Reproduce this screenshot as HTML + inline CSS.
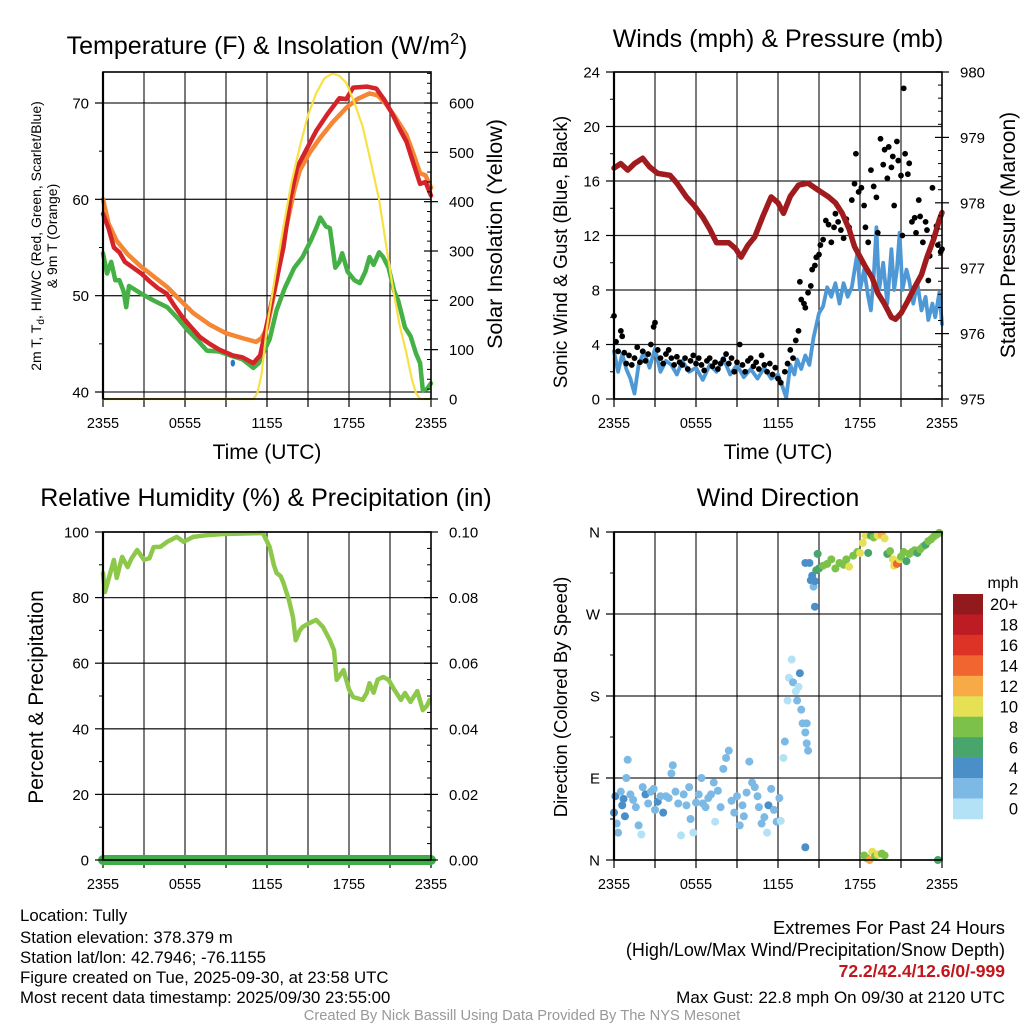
<!DOCTYPE html>
<html><head><meta charset="utf-8">
<style>
html,body{margin:0;padding:0;background:#fff;}
svg{display:block;font-family:"Liberation Sans",sans-serif;}
</style></head>
<body>
<svg id="chart" width="1024" height="1024" viewBox="0 0 1024 1024" xmlns="http://www.w3.org/2000/svg">
<rect width="1024" height="1024" fill="#fff"/>
<g id="root"></g>
<text x="267" y="54" font-size="25" text-anchor="middle">Temperature (F) &amp; Insolation (W/m<tspan dy="-10" font-size="16">2</tspan><tspan dy="10">)</tspan></text>
<text x="778" y="47" font-size="25" text-anchor="middle">Winds (mph) &amp; Pressure (mb)</text>
<text x="266" y="506" font-size="25" text-anchor="middle">Relative Humidity (%) &amp; Precipitation (in)</text>
<text x="778" y="506" font-size="25" text-anchor="middle">Wind Direction</text>
<text x="267" y="459" font-size="21" text-anchor="middle">Time (UTC)</text>
<text x="778" y="459" font-size="21" text-anchor="middle">Time (UTC)</text>
<text transform="translate(41,236) rotate(-90)" font-size="14" text-anchor="middle">2m T, T<tspan dy="3" font-size="10">d</tspan><tspan dy="-3">, HI/WC (Red, Green, Scarlet/Blue)</tspan></text>
<text transform="translate(57,236) rotate(-90)" font-size="14" text-anchor="middle">&amp; 9m T (Orange)</text>
<text transform="translate(502,234) rotate(-90)" font-size="21.5" text-anchor="middle">Solar Insolation (Yellow)</text>
<text transform="translate(567,252) rotate(-90)" font-size="19" text-anchor="middle">Sonic Wind &amp; Gust (Blue, Black)</text>
<text transform="translate(1015,235) rotate(-90)" font-size="21" text-anchor="middle">Station Pressure (Maroon)</text>
<text transform="translate(43,697) rotate(-90)" font-size="21" text-anchor="middle">Percent &amp; Precipitation</text>
<text transform="translate(567,697) rotate(-90)" font-size="18.5" text-anchor="middle">Direction (Colored By Speed)</text>
<text x="1003" y="588" font-size="16" text-anchor="middle">mph</text>
<g font-size="16.8">
<text x="20" y="921">Location: Tully</text>
<text x="20" y="943">Station elevation: 378.379 m</text>
<text x="20" y="963">Station lat/lon: 42.7946; -76.1155</text>
<text x="20" y="983">Figure created on Tue, 2025-09-30, at 23:58 UTC</text>
<text x="20" y="1003">Most recent data timestamp: 2025/09/30 23:55:00</text>
</g>
<g text-anchor="end">
<text x="1005" y="934" font-size="18.4">Extremes For Past 24 Hours</text>
<text x="1005" y="956" font-size="18">(High/Low/Max Wind/Precipitation/Snow Depth)</text>
<text x="1005" y="977" font-size="17.5" fill="#c1161c" font-weight="bold">72.2/42.4/12.6/0/-999</text>
<text x="1005" y="1003" font-size="17">Max Gust: 22.8 mph On 09/30 at 2120 UTC</text>
</g>
<text x="522" y="1020" font-size="14.7" fill="#999" text-anchor="middle">Created By Nick Bassill Using Data Provided By The NYS Mesonet</text>
</svg>
<script>
// ---- data ----
const timeTickLabels = ["2355","0555","1155","1755","2355"];
const tempTicks = [40,50,60,70];
const insolTicks = [0,100,200,300,400,500,600];
const windTicks = [0,4,8,12,16,20,24];
const presTicks = [975,976,977,978,979,980];
const rhTicks = [0,20,40,60,80,100];
const precipTicks = ["0.00","0.02","0.04","0.06","0.08","0.10"];
const dirTicks = ["N","E","S","W","N"];
const speedLabels = ["0","2","4","6","8","10","12","14","16","18","20+"];
const speedColors = ["#b3e2f7","#7cb9e4","#4a8fc8","#48a56c","#7cc24a","#e6e055","#f7aa45","#f06530","#dd3327","#bd1c24","#931a1c"];

const tempRed = [[0,58.5],[0.4,57],[0.8,55],[1.2,54.5],[1.6,53.5],[2.2,52.9],[2.8,52.3],[3.4,51.5],[4.0,50.8],[4.66,50.2],[5.2,49],[5.8,47.8],[6.4,46.8],[7.1,45.7],[7.8,45],[8.5,44.4],[9.5,43.8],[10.2,43.6],[11.0,43],[11.5,43.8],[12.0,47.1],[12.6,51],[13.2,55],[13.7,60],[14.2,63.3],[14.9,65.2],[15.6,67.1],[16.4,68.8],[17.3,70.5],[17.8,70.4],[18.3,71.6],[19.3,71.7],[20.0,71.5],[20.6,70.3],[21.2,68.8],[21.7,67.3],[22.2,66],[22.7,63.8],[23.2,61.6],[23.6,61.8],[24,60.4]];
const tempOrange = [[0,60],[0.4,57.5],[1.0,55.7],[1.8,54.3],[2.8,53],[3.7,52],[4.7,50.9],[5.6,49.6],[6.6,48.2],[7.8,47],[9.0,46.1],[10.2,45.6],[11.2,45.2],[11.6,45.6],[12.0,46.6],[12.7,51.5],[13.4,57],[14.0,61],[14.4,63],[15.1,64.8],[15.9,66.4],[16.8,68],[17.8,69.5],[18.6,70.4],[19.5,71],[20.1,70.8],[20.7,69.9],[21.4,68.5],[22.2,66.7],[22.7,64.8],[23.2,62.7],[23.6,62.5],[24,61.2]];
const tempGreen = [[0,54.4],[0.3,52.3],[0.6,53.5],[0.9,51.6],[1.2,51.6],[1.5,50.5],[1.7,48.8],[1.9,51],[2.8,50.2],[3.7,49.5],[4.7,48.8],[5.5,47.6],[6.2,46.4],[6.9,45.4],[7.6,44.3],[8.5,44.2],[9.5,43.7],[10.2,43.4],[11.0,42.5],[11.4,43],[11.7,44],[12.2,45.5],[12.7,48.5],[13.3,50.8],[14.0,52.9],[14.6,54],[15.2,55.7],[15.6,57],[15.9,58.1],[16.3,57.2],[16.6,57],[16.8,55],[17.0,52.9],[17.3,53.5],[17.5,54.4],[17.9,52.5],[18.4,51.6],[18.8,51.3],[19.2,52.5],[19.5,54],[19.8,53.2],[20.2,54.5],[20.5,54],[20.9,52.9],[21.3,50.5],[21.6,49.5],[22.1,46.7],[22.5,45.8],[22.9,44],[23.2,43],[23.4,40.2],[23.7,40.3],[24,40.9]];
const tempBlue = [[9.5,43]];
const insolation = [[0,0],[11.0,0],[11.3,12],[11.6,50],[12.0,146],[12.6,250],[13.2,349],[13.8,440],[14.4,511],[15.0,575],[15.6,620],[16.2,650],[16.8,660],[17.3,655],[17.8,641],[18.4,600],[19.0,552],[19.6,480],[20.2,404],[20.7,315],[21.2,227],[21.7,150],[22.2,93],[22.6,40],[22.9,12],[23.2,0],[24,0]];

const sonicWind = [[0,3.5],[0.3,2],[0.6,3.3],[0.9,2.2],[1.2,1.5],[1.5,0.4],[1.8,2.5],[2.2,3.5],[2.6,2.3],[3,3.7],[3.4,2],[3.8,2.8],[4.2,2.5],[4.6,1.8],[5,2.8],[5.5,2],[6,2.3],[6.5,1.4],[7,2.5],[7.5,2],[8,3],[8.5,1.8],[9,2.5],[9.5,1.6],[10,2.2],[10.5,1.5],[11,2.3],[11.5,1.5],[12,1.8],[12.3,1],[12.6,0.1],[12.9,2.5],[13.2,1.8],[13.4,2.9],[13.7,2.2],[14,3.2],[14.3,2.5],[14.6,4.5],[15,6.3],[15.3,6.8],[15.6,8.2],[15.9,7.5],[16.2,8.5],[16.5,7],[16.8,8.5],[17.1,7.5],[17.4,8.2],[17.8,10.7],[18,8],[18.3,9.5],[18.6,7.5],[18.8,6.5],[19,9],[19.2,12.6],[19.4,8],[19.7,10],[20,7],[20.3,11],[20.5,8],[20.7,9.5],[20.9,12.2],[21.1,8],[21.4,9.5],[21.6,8.7],[21.9,7],[22.2,8.5],[22.5,6.5],[22.8,7.5],[23,5.8],[23.3,7],[23.5,6],[23.8,7.8],[24,5.5]];
const gusts = [[0,6.1],[0.15,4.2],[0.3,3.5],[0.5,5.0],[0.6,4.6],[0.75,3.4],[0.9,2.6],[1.1,3.2],[1.3,2.5],[1.5,3.0],[1.7,3.8],[1.9,2.7],[2.1,3.5],[2.3,2.8],[2.5,3.3],[2.7,4.0],[2.9,5.3],[3.0,5.6],[3.2,3.6],[3.4,3.0],[3.6,2.6],[3.8,3.3],[4.0,3.6],[4.2,3.0],[4.4,2.5],[4.6,3.1],[4.8,2.7],[5.0,2.5],[5.2,3.0],[5.4,2.2],[5.6,2.8],[5.8,3.2],[6.0,2.6],[6.2,3.0],[6.4,2.5],[6.6,2.1],[6.8,2.8],[7.0,3.0],[7.2,2.4],[7.4,2.7],[7.6,2.2],[7.8,2.6],[8.0,2.9],[8.2,3.3],[8.4,2.6],[8.6,3.0],[8.8,2.0],[9.0,2.7],[9.2,4.0],[9.4,2.5],[9.6,2.0],[9.8,2.8],[10.0,3.0],[10.2,2.4],[10.4,2.7],[10.6,2.2],[10.8,3.2],[11.0,2.5],[11.2,2.0],[11.4,2.6],[11.6,1.8],[11.8,2.3],[12.0,1.5],[12.2,1.2],[12.5,2.0],[12.7,2.6],[12.9,3.6],[13.1,3.0],[13.3,4.3],[13.5,5.0],[13.6,8.6],[13.7,7.3],[13.9,7.0],[14.0,6.7],[14.2,7.8],[14.4,8.3],[14.5,9.5],[14.7,9.8],[14.8,10.4],[15.0,10.6],[15.1,11.3],[15.3,11.7],[15.5,13.1],[15.7,12.8],[15.9,11.5],[16.1,12.6],[16.2,13.6],[16.4,13.0],[16.6,12.4],[16.8,11.8],[17.0,13.2],[17.2,12.6],[17.4,14.6],[17.6,15.8],[17.7,18.0],[17.9,15.2],[18.1,15.5],[18.3,14.2],[18.4,12.6],[18.6,11.5],[18.8,16.8],[19.0,15.6],[19.2,14.8],[19.3,12.2],[19.5,19.1],[19.7,17.2],[19.8,18.3],[20.0,16.2],[20.1,18.5],[20.3,17.0],[20.4,17.8],[20.5,14.2],[20.7,18.9],[20.8,17.5],[21.0,16.4],[21.1,12.0],[21.2,22.8],[21.3,18.0],[21.5,16.5],[21.6,17.3],[21.8,13.0],[22.0,13.3],[22.1,12.2],[22.3,14.6],[22.4,13.4],[22.6,11.5],[22.8,13.0],[22.9,12.4],[23.0,8.7],[23.1,10.5],[23.3,15.5],[23.4,11.9],[23.6,12.7],[23.7,11.3],[23.9,10.8],[24.0,11.0]];
const pressure = [[0,978.53],[0.5,978.6],[1.0,978.5],[1.5,978.6],[2.1,978.68],[2.6,978.55],[3.2,978.45],[4.1,978.42],[4.6,978.3],[5.3,978.09],[5.9,977.95],[6.5,977.78],[7.0,977.6],[7.5,977.39],[8.4,977.39],[8.9,977.3],[9.3,977.17],[9.8,977.35],[10.3,977.48],[10.9,977.8],[11.5,978.09],[12.0,978.0],[12.4,977.84],[12.9,978.1],[13.5,978.27],[14.2,978.3],[14.9,978.2],[15.7,978.09],[16.2,978.0],[16.7,977.84],[17.2,977.6],[17.6,977.33],[18.4,977.02],[18.9,976.85],[19.3,976.62],[19.8,976.45],[20.3,976.25],[20.6,976.22],[21.0,976.31],[21.5,976.5],[22.0,976.71],[22.5,976.9],[22.9,977.17],[23.4,977.45],[23.8,977.74],[24,977.85]];

const rh = [[0,87.5],[0.15,81.7],[0.5,87],[0.8,91.5],[1.0,86],[1.4,92.4],[1.8,89.3],[2.1,92],[2.5,94.5],[3.0,91.5],[3.4,92],[3.7,95.4],[4.2,95.5],[4.7,97],[5.4,98.5],[5.9,97],[6.6,98.5],[7.5,99],[8.8,99.4],[10.0,99.5],[11.0,99.6],[11.7,99.7],[12.2,95.4],[12.5,90],[12.7,87.5],[13.0,86.5],[13.2,84.5],[13.6,79.3],[13.9,74],[14.1,67],[14.4,70],[14.6,71],[15.0,72],[15.6,73.2],[16.1,71],[16.6,67],[16.9,64],[17.1,54.9],[17.6,57.9],[18.0,52],[18.3,49.7],[19.0,48.8],[19.3,51],[19.5,53.9],[19.8,51],[20.1,55],[20.5,55.8],[20.9,54.9],[21.3,52],[21.8,48.8],[22.1,50.9],[22.5,48.2],[23.0,51.5],[23.4,45.7],[23.7,47],[23.9,48.8]];
const precip = [[0,0],[24,0]];

const windDir = [[0,52,2],[0.1,70,2],[0.2,40,1],[0.3,30,1],[0.5,75,1],[0.6,60,2],[0.7,67,2],[0.8,48,2],[0.9,90,1],[1.0,110,1],[1.2,72,1],[1.4,66,1],[1.6,58,1],[1.8,38,1],[2.0,28,0],[2.1,80,1],[2.3,72,2],[2.5,62,1],[2.7,75,1],[2.9,78,1],[3.0,55,1],[3.2,64,2],[3.4,70,1],[3.6,52,2],[3.8,70,1],[4.0,68,1],[4.2,95,1],[4.3,104,1],[4.5,75,1],[4.7,62,1],[4.9,27,0],[5.1,72,1],[5.3,60,1],[5.5,80,1],[5.6,45,1],[5.8,30,0],[6.0,63,1],[6.2,72,1],[6.4,90,1],[6.5,62,1],[6.7,58,1],[6.9,68,1],[7.1,72,1],[7.3,85,1],[7.4,42,0],[7.6,76,1],[7.8,58,1],[8.0,100,1],[8.2,112,1],[8.4,120,1],[8.6,65,1],[8.8,52,1],[9.0,70,1],[9.2,38,1],[9.4,60,1],[9.5,48,1],[9.7,74,1],[9.9,108,1],[10.1,85,1],[10.3,80,1],[10.5,70,1],[10.6,58,1],[10.8,40,1],[11.0,47,1],[11.2,30,0],[11.3,60,2],[11.5,78,1],[11.7,55,1],[11.9,42,1],[12.1,68,1],[12.2,43,0],[12.4,112,0],[12.5,130,1],[12.7,175,0],[12.8,200,0],[13.0,220,0],[13.1,195,1],[13.3,185,0],[13.4,175,1],[13.5,190,0],[13.6,205,2],[13.7,165,1],[13.8,150,1],[14.0,14,2],[14.0,140,1],[14.1,150,1],[14.2,120,1],[14.1,128,1],[14.0,326,2],[14.3,326,2],[14.4,307,2],[14.5,312,2],[14.6,300,1],[14.7,306,2],[14.7,278,2],[14.8,318,3],[14.9,336,3],[15.0,320,3],[15.3,323,4],[15.6,325,4],[15.9,330,4],[16.2,320,4],[16.5,326,4],[16.8,324,4],[17.0,330,4],[17.2,322,5],[17.5,334,4],[17.8,338,4],[18.0,337,5],[18.2,348,5],[18.4,356,5],[18.6,337,3],[18.8,356,3],[19.0,354,4],[19.3,356,5],[19.6,357,6],[19.8,353,5],[20.0,336,3],[20.2,339,4],[20.4,330,5],[20.5,323,5],[20.6,327,5],[20.7,325,7],[20.9,330,5],[21.0,333,4],[21.2,338,4],[21.4,328,3],[21.6,336,4],[21.8,338,4],[22.0,340,4],[22.2,337,3],[22.4,341,4],[22.6,344,4],[22.8,346,3],[23.0,350,4],[23.2,352,4],[23.4,355,4],[23.6,357,4],[23.8,359,4],[18.3,5,4],[18.5,2,4],[18.7,0,6],[18.9,9,5],[19.1,4,4],[19.3,6,5],[19.6,7,4],[19.8,5,4],[23.7,0,3]];

// ---- helpers ----
const NS = "http://www.w3.org/2000/svg";
const root = document.getElementById("root");
function mk(tag, attrs, name, parent) {
  const el = document.createElementNS(NS, tag);
  for (const k in attrs) el.setAttribute(k, attrs[k]);
  
  
  (parent || root).appendChild(el);
  return el;
}
function txt(x, y, s, anchor, size, name, parent) {
  const t = mk("text", {x: x, y: y, "text-anchor": anchor, "font-size": size}, name, parent);
  t.textContent = s;
  return t;
}
const W = 328, HRS = 24;
function panel(left, top, bottom) {
  return {
    L: left, T: top, B: bottom, R: left + W,
    x: h => left + h * W / HRS
  };
}
function linY(v0, v1, p0, p1) { return v => p0 + (v - v0) * (p1 - p0) / (v1 - v0); }
function pathFrom(data, fx, fy) {
  return data.map((d, i) => (i ? "L" : "M") + fx(d[0]).toFixed(1) + "," + fy(d[1]).toFixed(1)).join("");
}
function frame(p, name, hLines) {
  const g = mk("g", {}, name);
  mk("rect", {x: p.L, y: p.T, width: W, height: p.B - p.T, fill: "#fff"}, name + "-plot-area", g);
  for (let i = 1; i < 8; i++) {
    const x = p.L + i * W / 8;
    mk("line", {x1: x, x2: x, y1: p.T, y2: p.B, stroke: "#000", "stroke-width": 1.3, opacity: 0.8}, name + "-vgrid", g);
  }
  hLines.forEach(y => mk("line", {x1: p.L, x2: p.R, y1: y, y2: y, stroke: "#000", "stroke-width": 1.3, opacity: 0.85}, name + "-hgrid", g));
  for (let i = 0; i <= 8; i++) {
    const x = p.L + i * W / 8;
    mk("line", {x1: x, x2: x, y1: p.B, y2: p.B + 8, stroke: "#000", "stroke-width": 1.2}, name + "-x-tick", g);
  }
  timeTickLabels.forEach((s, i) => txt(p.L + i * W / 4, p.B + 29, s, "middle", 14.5, name + "-x-tick-label", g));
  return g;
}
function border(p, name) {
  mk("rect", {x: p.L, y: p.T, width: W, height: p.B - p.T, fill: "none", stroke: "#000", "stroke-width": 1.6}, name + "-border");
  mk("line", {x1: p.L, x2: p.L, y1: p.T, y2: p.B, stroke: "#000", "stroke-width": 2.2}, name + "-left-axis");
}
function leftTicks(p, vals, fy, labels, name, minorVals) {
  vals.forEach((v, i) => {
    const y = fy(v);
    mk("line", {x1: p.L - 8, x2: p.L, y1: y, y2: y, stroke: "#000", "stroke-width": 1.2}, name + "-tick");
    txt(p.L - 14, y + 5.5, labels ? labels[i] : String(v), "end", 15, name + "-tick-label");
  });
  (minorVals || []).forEach(v => {
    const y = fy(v);
    mk("line", {x1: p.L - 4, x2: p.L, y1: y, y2: y, stroke: "#000", "stroke-width": 1}, name + "-minor-tick");
  });
}
function rightTicks(p, vals, fy, labels, name, minorVals) {
  vals.forEach((v, i) => {
    const y = fy(v);
    mk("line", {x1: p.R - 7, x2: p.R + 7, y1: y, y2: y, stroke: "#000", "stroke-width": 1.2}, name + "-tick");
    txt(p.R + 18, y + 5.5, labels ? labels[i] : String(v), "start", 15, name + "-tick-label");
  });
  (minorVals || []).forEach(v => {
    const y = fy(v);
    mk("line", {x1: p.R - 4, x2: p.R, y1: y, y2: y, stroke: "#000", "stroke-width": 1}, name + "-minor-tick");
  });
}

// ---- Panel 1: Temperature ----
const p1 = panel(103, 72, 399);
const t1 = linY(40, 70, 392, 103);
const s1 = linY(0, 600, 399, 103);
frame(p1, "temperature-panel", tempTicks.map(t1));
const g1 = mk("g", {fill: "none", "stroke-linejoin": "round", "stroke-linecap": "round"}, "temperature-series");
mk("path", {d: pathFrom(tempGreen, p1.x, t1), stroke: "#44b045", "stroke-width": 4.5}, "dewpoint-line", g1);
mk("path", {d: pathFrom(tempOrange, p1.x, t1), stroke: "#f58634", "stroke-width": 4.5}, "temp-9m-line", g1);
mk("path", {d: pathFrom(tempRed, p1.x, t1), stroke: "#d4242a", "stroke-width": 4.5}, "temp-2m-line", g1);
tempBlue.forEach(d => mk("ellipse", {cx: p1.x(d[0]), cy: t1(d[1]), rx: 2.2, ry: 3.5, fill: "#2f78c0"}, "windchill-point", g1));
mk("path", {d: pathFrom(insolation, p1.x, s1), stroke: "#f8e045", "stroke-width": 2.2}, "insolation-line", g1);
border(p1, "temperature-panel");
leftTicks(p1, tempTicks, t1, null, "temperature-y", [45, 55, 65]);
rightTicks(p1, insolTicks, s1, null, "insolation-y", [20,40,60,80,120,140,160,180,220,240,260,280,320,340,360,380,420,440,460,480,520,540,560,580,620,640,660]);

// ---- Panel 2: Winds ----
const p2 = panel(614, 72, 399);
const w2 = linY(0, 24, 399, 72);
const pr2 = linY(975, 980, 399, 72);
frame(p2, "winds-panel", windTicks.map(w2));
const g2 = mk("g", {fill: "none", "stroke-linejoin": "round", "stroke-linecap": "round"}, "winds-series");
mk("path", {d: pathFrom(sonicWind, p2.x, w2), stroke: "#4f98d6", "stroke-width": 3.8}, "sonic-wind-line", g2);
gusts.forEach(d => mk("circle", {cx: p2.x(d[0]), cy: w2(d[1]), r: 2.9, fill: "#000", stroke: "none"}, "gust-point", g2));
mk("path", {d: pathFrom(pressure, p2.x, pr2), stroke: "#a01b1d", "stroke-width": 5.5}, "pressure-line", g2);
border(p2, "winds-panel");
leftTicks(p2, windTicks, w2, null, "wind-y", [2, 6, 10, 14, 18, 22]);
const presMinor = [];
for (let v = 975.2; v < 980; v += 0.2) { if (Math.abs(v - Math.round(v)) > 0.05) presMinor.push(v); }
rightTicks(p2, presTicks, pr2, null, "pressure-y", presMinor);

// ---- Panel 3: RH ----
const p3 = panel(103, 532, 860);
const r3 = linY(0, 100, 860, 532);
frame(p3, "humidity-panel", rhTicks.map(r3));
const g3 = mk("g", {fill: "none", "stroke-linejoin": "round", "stroke-linecap": "round"}, "humidity-series");
mk("path", {d: pathFrom(rh, p3.x, r3), stroke: "#8dc84b", "stroke-width": 4.5}, "rh-line", g3);
const pr3 = linY(0, 0.1, 860, 532);
mk("path", {d: pathFrom(precip, p3.x, pr3), stroke: "#3fae49", "stroke-width": 10}, "precip-line", g3);
border(p3, "humidity-panel");
leftTicks(p3, rhTicks, r3, null, "rh-y", [10, 30, 50, 70, 90]);
rightTicks(p3, rhTicks, r3, precipTicks, "precip-y", [5,10,15,25,30,35,45,50,55,65,70,75,85,90,95]);

// ---- Panel 4: Wind direction ----
const p4 = panel(614, 532, 860);
const d4 = linY(0, 360, 860, 532);
frame(p4, "direction-panel", [0, 90, 180, 270, 360].map(d4));
const g4 = mk("g", {}, "direction-series");
windDir.forEach(d => mk("circle", {cx: p4.x(d[0]), cy: d4(d[1]), r: 4, fill: speedColors[d[2]]}, "direction-point", g4));
border(p4, "direction-panel");
leftTicks(p4, [0, 90, 180, 270, 360], d4, dirTicks, "direction-y", [45, 135, 225, 315]);

// colorbar
const cb = mk("g", {}, "speed-colorbar");
const cbTop = 594, cbH = 20.45;
speedColors.slice().reverse().forEach((c, i) => {
  mk("rect", {x: 953, y: cbTop + i * cbH, width: 30, height: cbH + 0.3, fill: c}, "colorbar-swatch", cb);
});
speedLabels.slice().reverse().forEach((s, i) => {
  txt(1018, cbTop + i * cbH + cbH / 2 + 6, s, "end", 16.5, "colorbar-label", cb);
});
</script>
</body></html>
